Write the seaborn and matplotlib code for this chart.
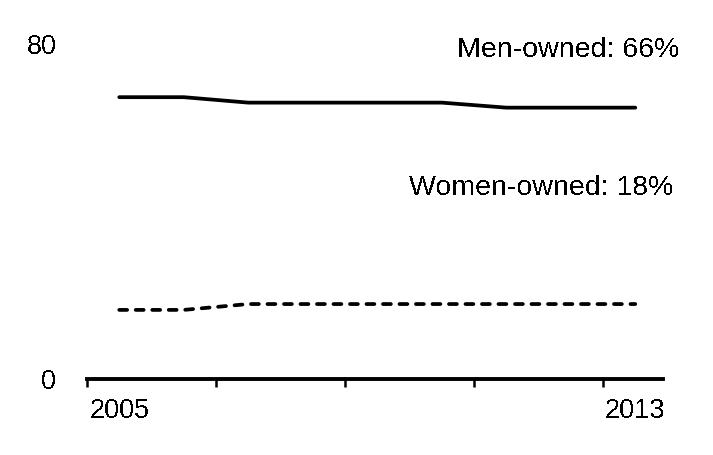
import pandas as pd
import numpy as np
import matplotlib.pyplot as plt
import seaborn as sns

years = list(range(2005, 2014))
men_owned = [67.3, 67.3, 66.0, 66.0, 66.0, 66.0, 64.8, 64.8, 64.8]
women_owned = [16.5, 16.5, 17.9, 17.9, 17.9, 17.9, 17.9, 17.9, 17.9]
x_labels = ["2005", "2013"]

sns.set_style("white")
plt.rcParams["font.family"] = ["Liberation Sans", "DejaVu Sans"]
plt.rcParams["text.color"] = "black"
plt.rcParams["text.antialiased"] = False

df = pd.DataFrame({
    "year": years * 2,
    "share": men_owned + women_owned,
    "owner": ["Men-owned"] * len(years) + ["Women-owned"] * len(years),
})

fig = plt.figure(figsize=(7.13, 4.55), dpi=100)
ax = fig.add_axes([87 / 713, 1 - 379 / 455, (663 - 87) / 713, (379 - 44) / 455])

sns.lineplot(data=df, x="year", y="share", style="owner", color="black",
             linewidth=2.7, dashes={"Men-owned": "", "Women-owned": (2.1, 2.3)},
             legend=False, ax=ax)
for ln in ax.lines:
    ln.set_dash_capstyle("round")
    ln.set_solid_capstyle("round")
    ln.set_clip_on(False)

ax.set_xlim(2004.5, 2013.43)
ax.set_ylim(0, 80)
ax.set_xticks([2005, 2013])
ax.set_xticklabels(x_labels)
ax.set_xticks(np.arange(2004.5, 2013, 2), minor=True)
ax.set_yticks([0, 80])
ax.tick_params(axis="x", which="major", length=0, pad=14, labelsize=19.5, colors="black")
ax.tick_params(axis="x", which="minor", bottom=True, length=5.5, width=1.8, direction="out", color="black")
ax.tick_params(axis="y", length=0, pad=22, labelsize=19.5, colors="black")
ax.set_xlabel("")
ax.set_ylabel("")

sns.despine(ax=ax, left=True)
ax.spines["bottom"].set_linewidth(2.8)
ax.spines["bottom"].set_color("black")

ax.text(2013.68, 76.9, "Men-owned: 66%", ha="right", va="baseline", fontsize=20.5, color="black")
ax.text(2013.59, 43.9, "Women-owned: 18%", ha="right", va="baseline", fontsize=20.5, color="black")

fig.savefig("out.png", dpi=100)
